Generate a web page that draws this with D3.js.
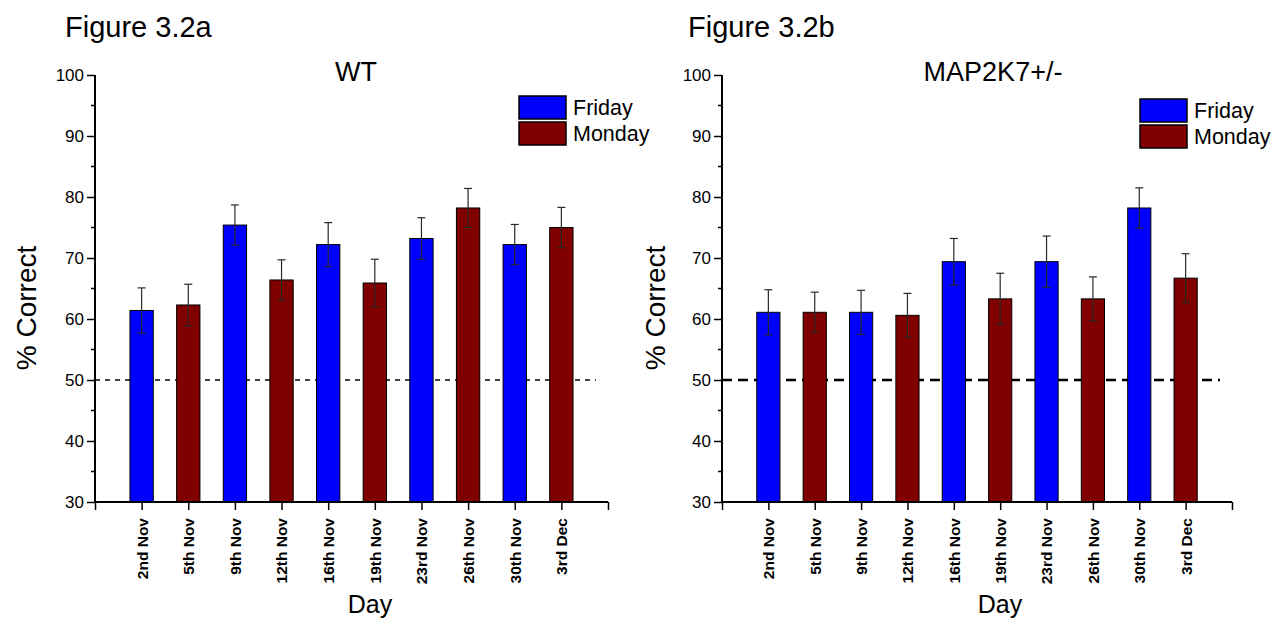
<!DOCTYPE html>
<html><head><meta charset="utf-8">
<script src="https://cdn.jsdelivr.net/npm/d3@7"></script>
<style>body{margin:0;background:#fff}svg{display:block}text{font-family:"Liberation Sans",Arial,sans-serif}</style>
</head><body>
<svg id="c" width="1284" height="623"></svg>
<script>
const days = ["2nd Nov","5th Nov","9th Nov","12th Nov","16th Nov","19th Nov","23rd Nov","26th Nov","30th Nov","3rd Dec"];
const dayType = ["Friday","Monday","Friday","Monday","Friday","Monday","Friday","Monday","Friday","Monday"];
const wtValues = [61.4, 62.3, 75.4, 66.4, 72.2, 65.9, 73.2, 78.2, 72.2, 75.0];
const wtErrors = [3.7, 3.4, 3.3, 3.3, 3.6, 3.9, 3.4, 3.2, 3.3, 3.3];
const mapValues = [61.1, 61.1, 61.1, 60.6, 69.4, 63.3, 69.4, 63.3, 78.2, 66.7];
const mapErrors = [3.7, 3.3, 3.6, 3.6, 3.8, 4.2, 4.2, 3.6, 3.3, 4.0];
const yTicks = [30, 40, 50, 60, 70, 80, 90, 100];
const legendItems = ["Friday", "Monday"];
const colors = {Friday: "#0000ff", Monday: "#800000"};
const FONT = '"Liberation Sans",Arial,sans-serif';

const svg = d3.select("#c");

function panel(cfg) {
  const g = svg.append("g");
  const x = d3.scaleLinear().domain([0, days.length + 1]).range([cfg.x0, cfg.x1]);
  const y = d3.scaleLinear().domain([30, 100]).range([502, 75]);
  const bw = x(0.5) - x(0);

  g.append("text").attr("x", cfg.figX).attr("y", 37).style("font-size", "29px").text(cfg.fig);
  g.append("text").attr("x", cfg.titleX).attr("y", 81).style("font-size", "27px").attr("text-anchor", "middle").text(cfg.title);

  g.append("line").attr("x1", cfg.x0).attr("x2", cfg.dashEnd).attr("y1", y(50)).attr("y2", y(50))
    .attr("stroke", "#000").attr("stroke-width", cfg.dashW).attr("stroke-dasharray", cfg.dash);

  g.selectAll("rect.bar").data(cfg.values).join("rect").attr("class", "bar")
    .attr("x", (d, i) => x(i + 1) - bw / 2).attr("width", bw)
    .attr("y", d => y(d)).attr("height", d => y(30) - y(d))
    .attr("fill", (d, i) => colors[dayType[i]]).attr("stroke", "#000").attr("stroke-width", 1);

  const eg = g.append("g").attr("stroke", "#2a2a2a").attr("stroke-width", 1.2);
  cfg.values.forEach((v, i) => {
    const cx = x(i + 1), e = cfg.errors[i];
    eg.append("line").attr("x1", cx).attr("x2", cx).attr("y1", y(v + e)).attr("y2", y(v - e));
    eg.append("line").attr("x1", cx - 4).attr("x2", cx + 4).attr("y1", y(v + e)).attr("y2", y(v + e));
    eg.append("line").attr("x1", cx - 4).attr("x2", cx + 4).attr("y1", y(v - e)).attr("y2", y(v - e));
  });

  const ya = g.append("g").attr("transform", `translate(${cfg.x0},0)`)
    .call(d3.axisLeft(y).tickValues(yTicks).tickSize(8).tickPadding(3));
  ya.selectAll("text").style("font-size", "17px").attr("fill", "#000").style("font-family", FONT);
  ya.select(".domain").attr("stroke-width", 2).attr("d", `M0,${y(30)}V${y(100)}`);
  ya.selectAll(".tick line").attr("stroke-width", 1.5);
  const minor = d3.range(35, 100, 10);
  g.selectAll("line.minor").data(minor).join("line").attr("class", "minor")
    .attr("x1", cfg.x0 - 4).attr("x2", cfg.x0).attr("y1", d => y(d)).attr("y2", d => y(d))
    .attr("stroke", "#000").attr("stroke-width", 1.5);

  const xa = g.append("g").attr("transform", `translate(0,${y(30)})`)
    .call(d3.axisBottom(x).tickValues(d3.range(0, days.length + 2)).tickSize(8)
      .tickFormat(d => (d >= 1 && d <= days.length) ? days[d - 1] : ""));
  xa.select(".domain").attr("stroke-width", 2).attr("d", `M${cfg.x0},0H${cfg.x1}`);
  xa.selectAll(".tick line").attr("stroke-width", 1.5);
  xa.selectAll("text").style("font-size", "15.5px").attr("font-weight", "bold").attr("fill", "#000")
    .style("font-family", FONT)
    .attr("transform", "rotate(-90)").attr("text-anchor", "end")
    .attr("x", -16).attr("y", 0).attr("dy", "0.35em");

  g.append("text").attr("transform", `translate(${cfg.ylabX},308) rotate(-90)`).attr("text-anchor", "middle")
    .style("font-size", "28px").text("% Correct");
  g.append("text").attr("x", cfg.dayX).attr("y", 613).attr("text-anchor", "middle")
    .style("font-size", "25px").text("Day");

  legendItems.forEach((k, i) => {
    const ly = cfg.legY + i * 26;
    g.append("rect").attr("x", cfg.legX).attr("y", ly).attr("width", 47).attr("height", 23)
      .attr("fill", colors[k]).attr("stroke", "#000").attr("stroke-width", 1.5);
    g.append("text").attr("x", cfg.legX + 54).attr("y", ly + 19).style("font-size", "21.5px").text(k);
  });
}

panel({x0: 95, x1: 608, values: wtValues, errors: wtErrors, fig: "Figure 3.2a", figX: 65,
  title: "WT", titleX: 356, dashEnd: 596, dashW: 1.6, dash: "5,5", ylabX: 36, dayX: 370, legX: 519, legY: 96});
panel({x0: 722, x1: 1232, values: mapValues, errors: mapErrors, fig: "Figure 3.2b", figX: 688,
  title: "MAP2K7+/-", titleX: 993, dashEnd: 1220, dashW: 2.4, dash: "10,6", ylabX: 665, dayX: 1000, legX: 1140, legY: 99});
</script>
</body></html>
